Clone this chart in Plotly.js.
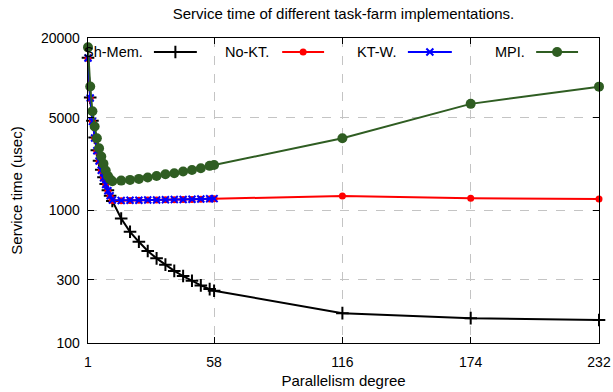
<!DOCTYPE html>
<html>
<head>
<meta charset="utf-8">
<script src="https://cdn.plot.ly/plotly-3.0.1.min.js"></script>
<style>html,body{margin:0;padding:0;background:#fff;}#chart{width:613px;height:392px;}</style>
</head>
<body>
<div id="chart"></div>
<script>
// ---- data ----
const xFine = [1,2,3,4,5,6,7,8,9,10,11,12,16,20,24,28,32,36,40,44,48,52,56,58];
const xFull = [1,2,3,4,5,6,7,8,9,10,11,12,16,20,24,28,32,36,40,44,48,52,56,58,116,174,232];

const shMem = [14200,7100,4750,3550,2850,2370,2030,1780,1580,1420,1290,1180,870,690,580,495,435,390,350,320,295,272,255,248,168,154,149];
const noKT  = [14000,7000,4700,3500,2800,2350,2000,1750,1560,1400,1280,1190,1185,1190,1195,1200,1200,1205,1205,1210,1210,1215,1220,1225,1285,1236,1222];
const ktW   = [14150,7050,4700,3520,2820,2360,2010,1760,1570,1410,1290,1200,1190,1195,1195,1200,1200,1205,1210,1210,1215,1220,1225,1228];
const mpi   = [17000,8600,5600,4300,3500,2950,2550,2250,2000,1820,1720,1660,1680,1700,1730,1770,1820,1875,1910,1965,2020,2080,2170,2200,3510,6370,8590];

const names = ['Sh-Mem.', 'No-KT.', 'KT-W.', 'MPI.'];
const colors = ['#000000', '#ff0000', '#0000ff', '#2f5d22'];
const xTicks = [1, 58, 116, 174, 232];
const yTicks = [100, 300, 1000, 5000, 20000];

const FONT = 'Liberation Sans, Arial, sans-serif';

const markers = [
  {symbol:'cross-thin-open', size:9, color:colors[0], line:{color:colors[0], width:2}},
  {symbol:'circle', size:7, color:colors[1]},
  {symbol:'x-thin-open', size:7, color:colors[2], line:{color:colors[2], width:2}},
  {symbol:'circle', size:10, color:colors[3]}
];

const series = [
  {x:xFull, y:shMem},
  {x:xFull, y:noKT},
  {x:xFine, y:ktW},
  {x:xFull, y:mpi}
];

const traces = series.map((s,i)=>({
  type:'scatter', mode:'lines+markers', x:s.x, y:s.y, name:names[i],
  line:{color:colors[i], width:2}, marker:markers[i], showlegend:false,
  cliponaxis:false
}));

// legend samples (gnuplot style: text then line sample)
const legX = [[0.129,0.213],[0.380,0.462],[0.626,0.712],[0.877,0.959]];
const legTextX = [0.1115, 0.358, 0.607, 0.859];
const legY = 0.954;
legX.forEach((lx,i)=>{
  traces.push({type:'scatter', mode:'lines', x:lx, y:[legY,legY], xaxis:'x2', yaxis:'y2',
    line:{color:colors[i], width:2}, showlegend:false, hoverinfo:'skip'});
  traces.push({type:'scatter', mode:'markers', x:[(lx[0]+lx[1])/2], y:[legY], xaxis:'x2', yaxis:'y2',
    marker:markers[i], showlegend:false, hoverinfo:'skip'});
});

const annotations = names.map((n,i)=>({
  text:n, xref:'paper', yref:'paper', x:legTextX[i], y:legY, xanchor:'right', yanchor:'middle',
  showarrow:false, font:{family:FONT, size:14.5, color:'#000'}
}));

const axisCommon = {
  showline:true, linecolor:'#000', linewidth:1.3, mirror:'ticks', ticks:'inside', ticklen:6,
  tickcolor:'#000', tickwidth:1, showgrid:true, gridcolor:'#c4c4c4', griddash:'dash', gridwidth:1,
  zeroline:false, tickfont:{family:FONT, size:14, color:'#000'}
};

const layout = {
  width:613, height:392,
  margin:{l:88, r:14, t:38, b:49},
  paper_bgcolor:'#fff', plot_bgcolor:'#fff',
  title:{text:'Service time of different task-farm implementations.', font:{family:FONT, size:15, color:'#000'},
    x:0.5, xref:'paper', y:1-14/392, yref:'container', yanchor:'middle'},
  xaxis:Object.assign({}, axisCommon, {
    range:[1,232], tickvals:xTicks, ticktext:xTicks.map(String), ticklabelstandoff:6,
    title:{text:'Parallelism degree', font:{family:FONT, size:15, color:'#000'}, standoff:6}
  }),
  yaxis:Object.assign({}, axisCommon, {
    type:'log', range:[2, Math.log10(20000)], tickvals:yTicks, ticktext:yTicks.map(String), ticklabelstandoff:4,
    title:{text:'Service time (usec)', font:{family:FONT, size:15, color:'#000'}, standoff:14}
  }),
  xaxis2:{overlaying:'x', range:[0,1], visible:false, fixedrange:true},
  yaxis2:{overlaying:'y', range:[0,1], visible:false, fixedrange:true},
  annotations:annotations,
  showlegend:false
};

Plotly.newPlot('chart', traces, layout, {staticPlot:true, displayModeBar:false});
</script>
</body>
</html>
